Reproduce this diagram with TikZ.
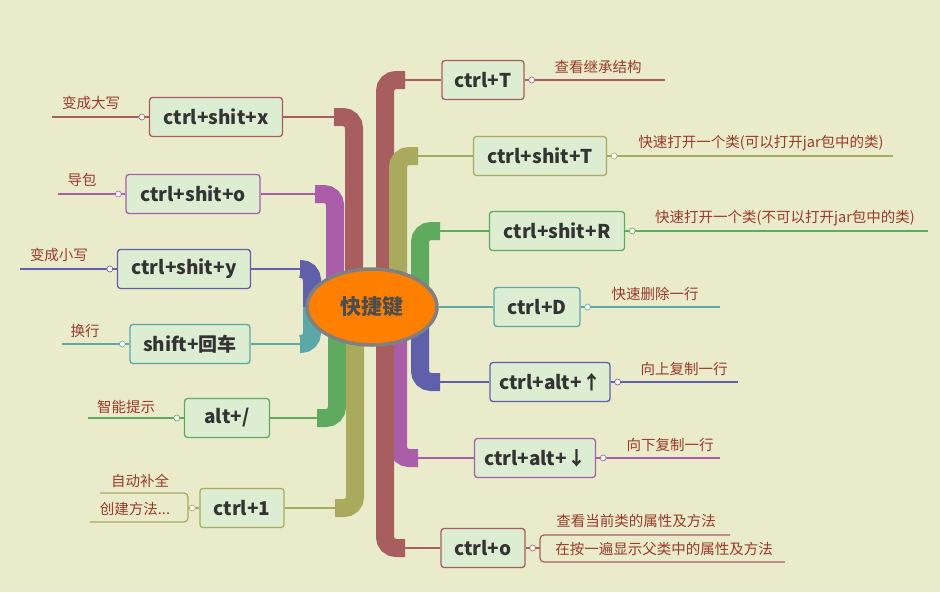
\documentclass[tikz,border=0pt]{standalone}
\usepackage{fontspec}
\setmainfont{Noto Sans CJK SC}
\usetikzlibrary{backgrounds,shapes.geometric}
\definecolor{paper}{HTML}{E9EBCB}
\definecolor{cRed}{HTML}{A85E5E}
\definecolor{cOli}{HTML}{AAAA5E}
\definecolor{cGrn}{HTML}{60AA60}
\definecolor{cTea}{HTML}{5AA8A8}
\definecolor{cBlu}{HTML}{6060AA}
\definecolor{cPur}{HTML}{AA5EAA}
\definecolor{keyfill}{HTML}{DCEDD2}
\definecolor{leaftext}{HTML}{9A3A2A}
\tikzset{
  key/.style={draw=#1, fill=keyfill, line width=1.3pt, rounded corners=3pt,
    minimum height=39pt, inner sep=0pt, text=black!80,
    font=\bfseries\fontsize{19}{19}\selectfont},
  leaf/.style={text=leaftext, inner sep=0pt, font=\fontsize{14.5}{14.5}\selectfont},
  band/.style={draw=#1, line width=18pt, rounded corners=11pt},
  twig/.style={draw=#1, line width=2.5pt},
  line/.style={draw=#1, line width=1.2pt},
  knob/.style={circle, draw=#1, fill=white, line width=0.6pt, inner sep=0pt, minimum size=6pt}
}
% band: color, band x, node y, node, horizontal run
\newcommand\limb[5]{%
  \draw[band=#1] (#2,307) |- ({#2+#5},#3);
  \draw[twig=#1] (#2,#3) -- (#4);
}
\begin{document}
\begin{tikzpicture}[x=1pt, y=-1pt]
\useasboundingbox (0,0) rectangle (940,592);

% === Hub ===
\node[ellipse, draw=black!50, line width=3.5pt, fill=orange, minimum width=130pt,
  minimum height=76pt, font=\bfseries\fontsize{21}{21}\selectfont, text=black!70]
  (hub) at (372,307) {快捷键};

% === Right keys ===
\node[key=cRed, minimum width=82pt]  (kT) at (483,80)  {ctrl+T};
\node[key=cOli, minimum width=133pt] (kST) at (540,156) {ctrl+shit+T};
\node[key=cGrn, minimum width=135pt] (kSR) at (557,231) {ctrl+shit+R};
\node[key=cTea, minimum width=86pt]  (kD) at (537,307) {ctrl+D};
\node[key=cBlu, minimum width=120pt] (kUp) at (550,382) {ctrl+alt+↑};
\node[key=cPur, minimum width=121pt] (kDn) at (535,458) {ctrl+alt+↓};
\node[key=cRed, minimum width=84pt]  (kO) at (483,548) {ctrl+o};

% === Left keys ===
\node[key=cRed, minimum width=133pt] (kSX) at (216,117) {ctrl+shit+x};
\node[key=cPur, minimum width=134pt] (kSO) at (193,194) {ctrl+shit+o};
\node[key=cBlu, minimum width=133pt] (kSY) at (184,269) {ctrl+shit+y};
\node[key=cTea, minimum width=120pt] (kEnt) at (190,344) {shift+回车};
\node[key=cGrn, minimum width=85pt]  (kAlt) at (227,418) {alt+/};
\node[key=cOli, minimum width=84pt]  (k1) at (242,508) {ctrl+1};

% === Branches ===
\begin{scope}[on background layer]
  \fill[paper] (0,0) rectangle (940,592);
  \limb{cRed}{385}{80}{kT.west}{20}
  \limb{cOli}{398}{156}{kST.west}{20}
  \limb{cGrn}{420}{231}{kSR.west}{20}
  \limb{cBlu}{420}{382}{kUp.west}{20}
  \limb{cPur}{398}{458}{kDn.west}{20}
  \limb{cRed}{385}{548}{kO.west}{20}
  \draw[twig=cTea] (hub.east) -- (kD.west);
  \limb{cRed}{354}{117}{kSX.east}{-20}
  \limb{cPur}{335}{194}{kSO.east}{-20}
  \limb{cBlu}{312}{269}{kSY.east}{-12}
  \limb{cTea}{312}{344}{kEnt.east}{-12}
  \limb{cGrn}{337}{418}{kAlt.east}{-20}
  \limb{cOli}{355}{508}{k1.east}{-20}
\end{scope}

% === Right leaves ===
\coordinate (eT) at (665,80);
\coordinate (eST) at (893,156);
\coordinate (eSR) at (928,231);
\coordinate (eD) at (720,307);
\coordinate (eUp) at (738,382);
\coordinate (eDn) at (720,458);
\draw[line=cRed] (kT.east) -- (eT);
\draw[line=cOli] (kST.east) -- (eST);
\draw[line=cGrn] (kSR.east) -- (eSR);
\draw[line=cTea] (kD.east) -- (eD);
\draw[line=cBlu] (kUp.east) -- (eUp);
\draw[line=cPur] (kDn.east) -- (eDn);
\draw[line=cRed, rounded corners=4pt] (730,535) -- (540,535) -- (540,562) -- (785,562);
\draw[line=cRed] (kO.east) -- (540,548);
\node[leaf] (lT) at (598,67) {查看继承结构};
\node[leaf] (lST) at (761,143) {快速打开一个类(可以打开jar包中的类)};
\node[leaf] (lSR) at (785,218) {快速打开一个类(不可以打开jar包中的类)};
\node[leaf] (lD) at (655,294) {快速删除一行};
\node[leaf] (lUp) at (684,369) {向上复制一行};
\node[leaf] (lDn) at (670,445) {向下复制一行};
\node[leaf] (lO1) at (636,521) {查看当前类的属性及方法};
\node[leaf] (lO2) at (664,549) {在按一遍显示父类中的属性及方法};

% === Left leaves ===
\coordinate (eSX) at (52,117);
\coordinate (eSO) at (58,194);
\coordinate (eSY) at (20,269);
\coordinate (eEnt) at (62,344);
\coordinate (eAlt) at (88,418);
\draw[line=cRed] (kSX.west) -- (eSX);
\draw[line=cPur] (kSO.west) -- (eSO);
\draw[line=cBlu] (kSY.west) -- (eSY);
\draw[line=cTea] (kEnt.west) -- (eEnt);
\draw[line=cGrn] (kAlt.west) -- (eAlt);
\draw[line=cOli, rounded corners=4pt] (100,493) -- (188,493) -- (188,522) -- (90,522);
\draw[line=cOli] (k1.west) -- (188,508);
\node[leaf] (lSX) at (91,103) {变成大写};
\node[leaf] (lSO) at (82,180) {导包};
\node[leaf] (lSY) at (59,255) {变成小写};
\node[leaf] (lEnt) at (85,331) {换行};
\node[leaf] (lAlt) at (126,407) {智能提示};
\node[leaf] (l1a) at (140,481) {自动补全};
\node[leaf] (l1b) at (135,509) {创建方法...};

% === Knobs ===
\foreach \k/\c in {kT/cRed, kST/cOli, kSR/cGrn, kD/cTea, kUp/cBlu, kDn/cPur, kO/cRed}{
  \node[knob=\c] at ([xshift=7pt]\k.east) {};
}
\foreach \k/\c in {kSX/cRed, kSO/cPur, kSY/cBlu, kEnt/cTea, kAlt/cGrn, k1/cOli}{
  \node[knob=\c] at ([xshift=-7pt]\k.west) {};
}
\end{tikzpicture}
\end{document}
